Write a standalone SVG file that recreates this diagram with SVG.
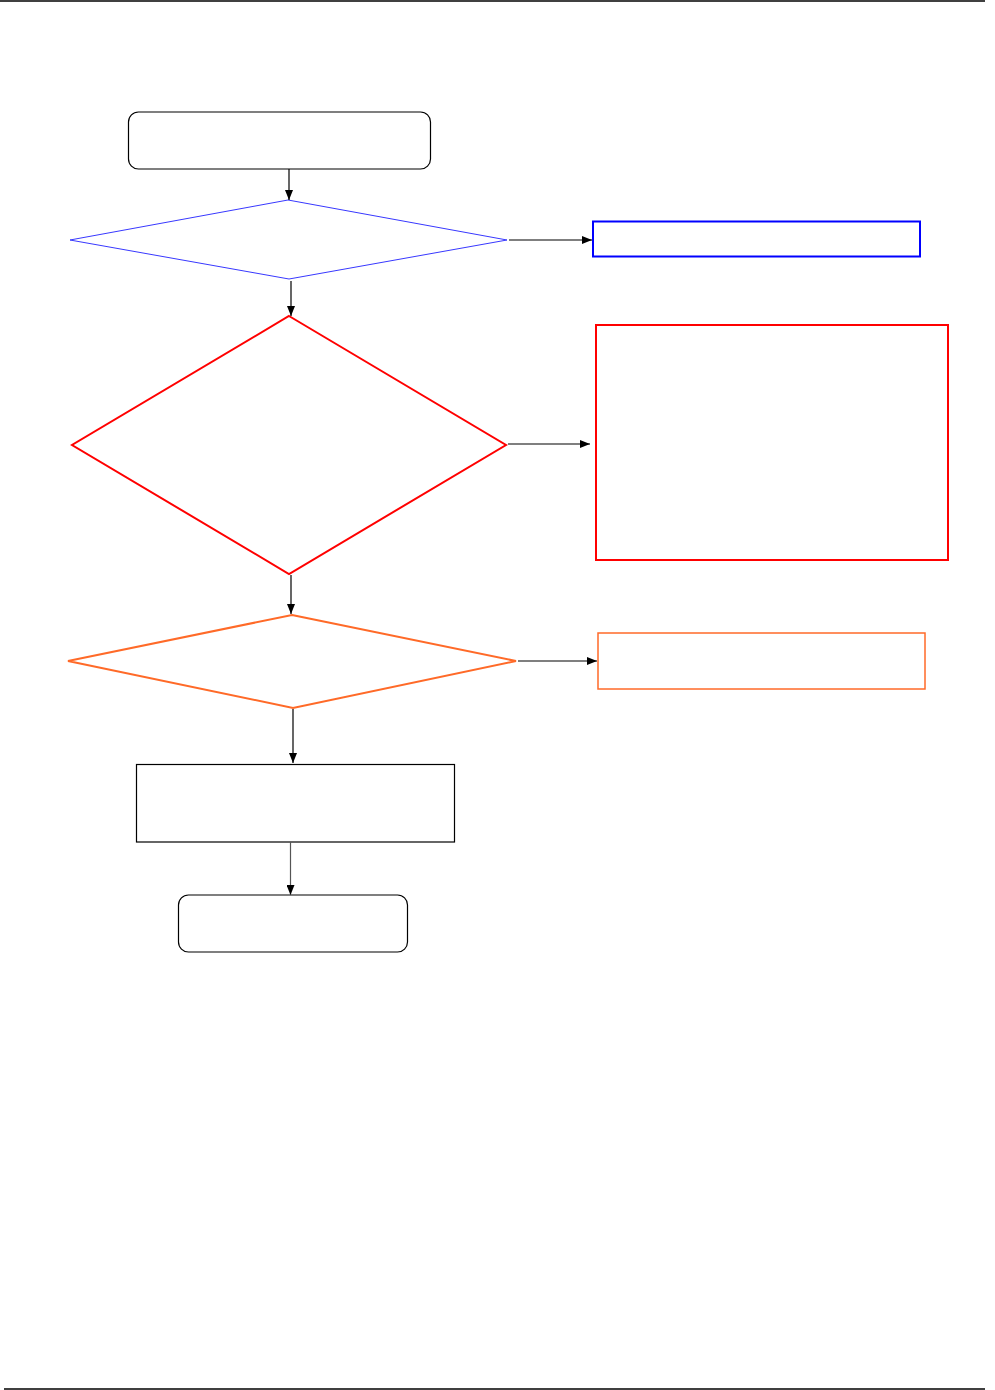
<svg xmlns="http://www.w3.org/2000/svg" width="995" height="1390" viewBox="0 0 995 1390">
<defs>
<marker id="ah" viewBox="0 0 10 8" refX="10" refY="4" markerWidth="10" markerHeight="8" markerUnits="userSpaceOnUse" orient="auto">
<path d="M0,0 L10,4 L0,8 Z" fill="#000"/>
</marker>
</defs>
<style>
.bk{fill:#fff;stroke:#000;stroke-width:1.2}
.edge{fill:none;stroke:#000;stroke-width:1.2;marker-end:url(#ah)}
.rule{stroke:#000;stroke-width:1.5}
</style>
<rect width="995" height="1390" fill="#fff"/>
<line class="rule" x1="0" y1="1" x2="985" y2="1"/>
<line class="rule" x1="4" y1="1389" x2="985" y2="1389"/>
<g id="start"><rect class="bk" x="128.5" y="112" width="302" height="57" rx="10"/></g>
<g id="d1"><polygon points="288,200 507,240 289,279 70,240" fill="#fff" stroke="#3838ff" stroke-width="1"/></g>
<g id="r1"><rect x="593" y="221.5" width="327" height="35" fill="#fff" stroke="#0000ff" stroke-width="2"/></g>
<g id="d2"><polygon points="289,316 506,445 289,574 72,445" fill="#fff" stroke="#ff0000" stroke-width="2"/></g>
<g id="r2"><rect x="596" y="325" width="352" height="235" fill="#fff" stroke="#ff0000" stroke-width="2"/></g>
<g id="d3"><polygon points="292,615 516,661 293,708 68,661" fill="#fff" stroke="#ff6a28" stroke-width="2"/></g>
<g id="r3"><rect x="598" y="633" width="327" height="56" fill="#fff" stroke="#ff6a28" stroke-width="1.5"/></g>
<g id="p1"><rect class="bk" x="136.5" y="764.5" width="318" height="77.5"/></g>
<g id="end"><rect class="bk" x="178.5" y="895" width="229" height="57" rx="10"/></g>
<g id="connectors">
<line class="edge" x1="289" y1="169" x2="289" y2="200"/>
<line class="edge" x1="509" y1="240" x2="592" y2="240"/>
<line class="edge" x1="291" y1="281" x2="291" y2="316"/>
<line class="edge" x1="508" y1="444" x2="590" y2="444"/>
<line class="edge" x1="291" y1="575" x2="291" y2="614"/>
<line class="edge" x1="518" y1="661" x2="597" y2="661"/>
<line class="edge" x1="293" y1="709" x2="293" y2="763"/>
<line class="edge" x1="290.5" y1="842" x2="290.5" y2="895" style="stroke:#555"/>
</g>
</svg>
